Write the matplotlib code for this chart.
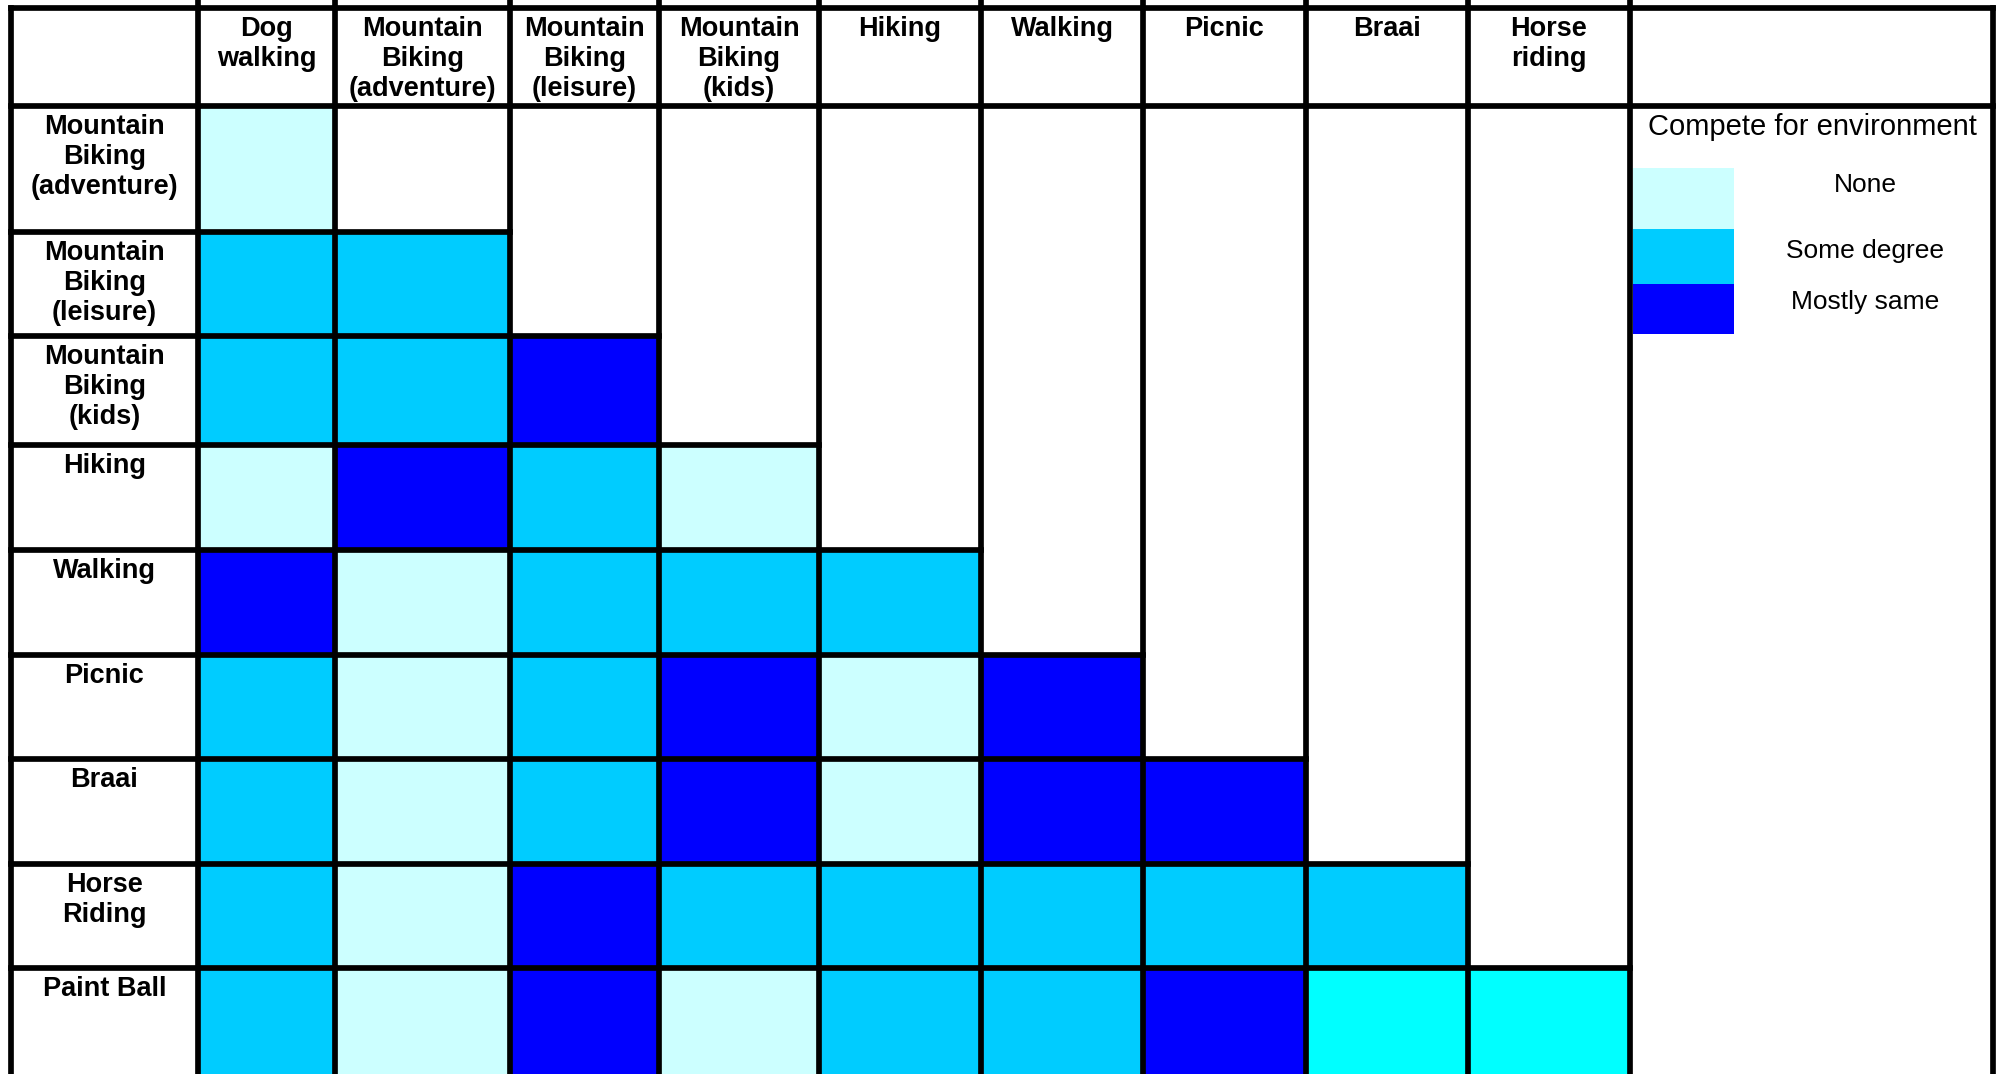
import numpy as np
import matplotlib.pyplot as plt
from matplotlib.patches import Rectangle

# =========================================================
# DATA
# =========================================================
col_labels = ["Dog\nwalking", "Mountain\nBiking\n(adventure)", "Mountain\nBiking\n(leisure)",
              "Mountain\nBiking\n(kids)", "Hiking", "Walking", "Picnic", "Braai", "Horse\nriding"]
row_labels = ["Mountain\nBiking\n(adventure)", "Mountain\nBiking\n(leisure)", "Mountain\nBiking\n(kids)",
              "Hiking", "Walking", "Picnic", "Braai", "Horse\nRiding", "Paint Ball"]

legend_title = "Compete for environment"
level_names = ["None", "Some degree", "Mostly same"]
level_colors = ["#CCFFFF", "#00CCFF", "#0000FF", "#00FFFF"]

# 0 = none, 1 = some degree, 2 = mostly same, 3 = (cyan, unlabelled)
compete = [
    [0],
    [1, 1],
    [1, 1, 2],
    [0, 2, 1, 0],
    [2, 0, 1, 1, 1],
    [1, 0, 1, 2, 0, 2],
    [1, 0, 1, 2, 0, 2, 2],
    [1, 0, 2, 1, 1, 1, 1, 1],
    [1, 0, 2, 0, 1, 1, 2, 3, 3],
]

# =========================================================
# LAYOUT (pixels)
# =========================================================
W, H = 1998, 1074
x_edges = [11, 198, 335, 510, 659, 819, 981, 1143, 1306, 1468, 1630, 1993]
y_edges = [8, 106, 232, 336, 445, 550, 655, 759, 864, 968, 1085]
LW = 4.1
FONT = "Liberation Sans"
LAB_SIZE = 19.5
SPACING = 1.2

fig = plt.figure(figsize=(W / 100, H / 100), dpi=100)
ax = fig.add_axes([0, 0, 1, 1])
ax.set_xlim(0, W)
ax.set_ylim(H, 0)
ax.axis("off")

# cells
for r, row in enumerate(compete):
    for c, val in enumerate(row):
        x0, x1 = x_edges[c + 1], x_edges[c + 2]
        y0, y1 = y_edges[r + 1], y_edges[r + 2]
        ax.add_patch(Rectangle((x0, y0), x1 - x0, y1 - y0,
                               facecolor=level_colors[val], edgecolor="none"))

# grid lines
line_kw = dict(color="black", lw=LW, solid_capstyle="projecting")
ax.plot([x_edges[0], x_edges[-1]], [y_edges[0], y_edges[0]], **line_kw)
ax.plot([x_edges[0], x_edges[-1]], [y_edges[1], y_edges[1]], **line_kw)
for r in range(1, len(compete)):
    ax.plot([x_edges[0], x_edges[r + 2]], [y_edges[r + 1], y_edges[r + 1]], **line_kw)
for i, x in enumerate(x_edges):
    top = y_edges[0] if i in (0, len(x_edges) - 1) else 0
    ax.plot([x, x], [top, H + 10], **line_kw)

# header labels
for c, lab in enumerate(col_labels):
    xc = (x_edges[c + 1] + x_edges[c + 2]) / 2
    ax.text(xc, y_edges[0] + 8, lab, ha="center", va="top", fontsize=LAB_SIZE,
            fontweight="bold", family=FONT, linespacing=SPACING)

# row labels
for r, lab in enumerate(row_labels):
    xc = (x_edges[0] + x_edges[1]) / 2
    ax.text(xc, y_edges[r + 1] + 8, lab, ha="center", va="top", fontsize=LAB_SIZE,
            fontweight="bold", family=FONT, linespacing=SPACING)

# legend
lx0, lx1 = 1633, 1734
sw_edges = [168, 229, 284, 334]
ax.text(1812, 127, legend_title, ha="center", va="center", fontsize=21, family=FONT)
label_y = [185, 251, 302]
for i, name in enumerate(level_names):
    ax.add_patch(Rectangle((lx0, sw_edges[i]), lx1 - lx0, sw_edges[i + 1] - sw_edges[i],
                           facecolor=level_colors[i], edgecolor="none"))
    ax.text(1865, label_y[i], name, ha="center", va="center", fontsize=19, family=FONT)

fig.savefig("out.png", dpi=100)
